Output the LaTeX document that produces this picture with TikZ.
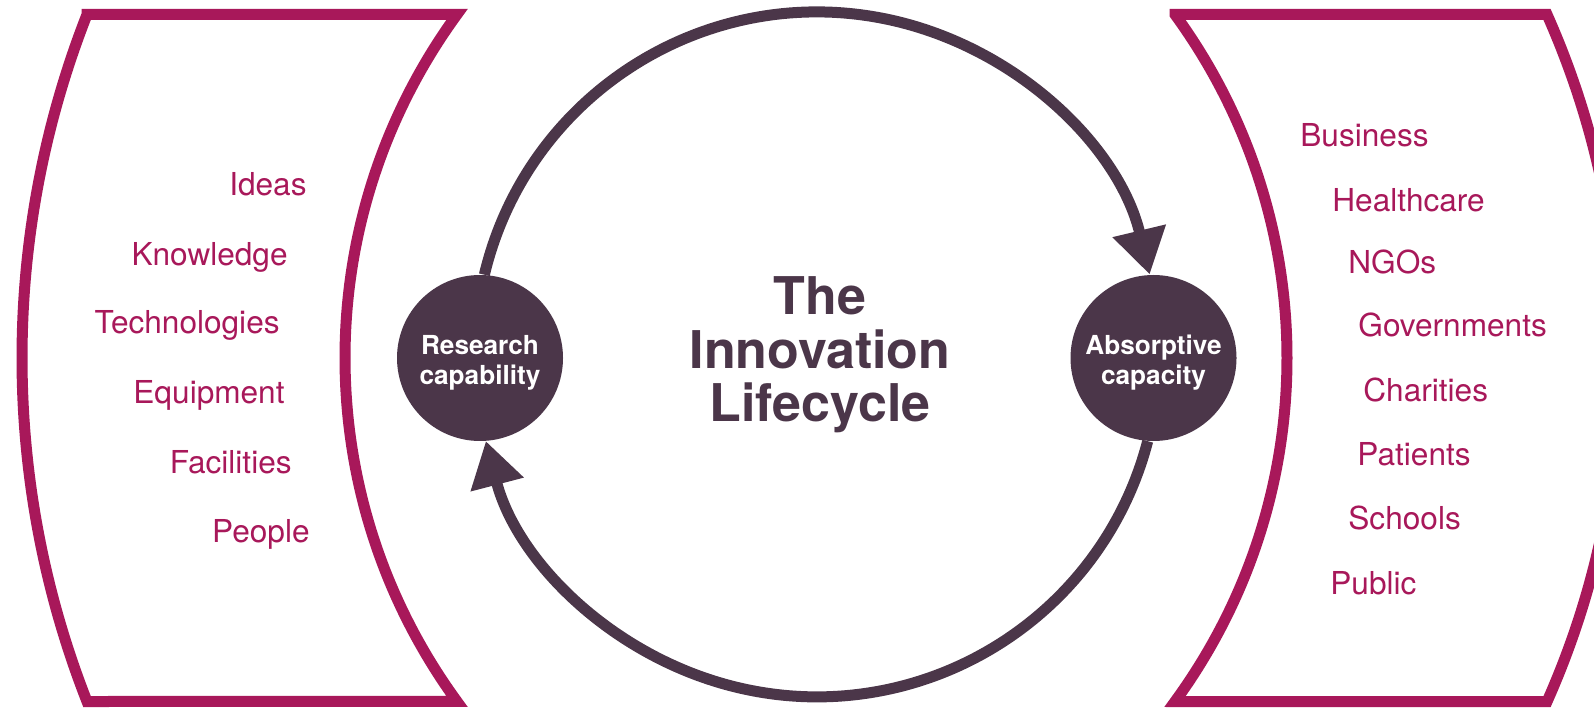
\documentclass[tikz,border=0pt]{standalone}
\usepackage{fontspec}
\setmainfont{TeX Gyre Heros}
\usetikzlibrary{arrows.meta}
\definecolor{framecol}{RGB}{168,24,90}
\definecolor{plum}{RGB}{75,54,73}
\begin{document}
\begin{tikzpicture}[x=0.5pt,y=0.5pt,
  framestyle/.style={draw=framecol, line width=5.5pt, line join=miter},
  itemL/.style={text=framecol, inner sep=0pt, anchor=base east, font=\fontsize{15.8pt}{18pt}\selectfont},
  itemR/.style={text=framecol, inner sep=0pt, anchor=base west, font=\fontsize{15.8pt}{18pt}\selectfont},
  hub/.style={circle, fill=plum, minimum size=83pt, inner sep=0pt},
  hublabel/.style={text=white, align=center, inner sep=0pt, font=\bfseries\fontsize{13.1pt}{15pt}\selectfont},
  titlestyle/.style={text=plum, align=center, inner sep=0pt, font=\bfseries\fontsize{26pt}{26.8pt}\selectfont},
  cyclearrow/.style={draw=plum, line width=5.5pt, -{Triangle[length=22.5pt,width=26pt]}}]
\useasboundingbox (0,0) rectangle (1594,707);
\clip (0,0) rectangle (1594,707);
% left frame
\draw[framestyle] (87,692.5) -- (457,692.5) arc[start angle=143.88,end angle=216.12,radius=291.35pt]
  -- (87,5.5) arc[start angle=201.43,end angle=158.57,radius=470.05pt] -- cycle;
% right frame
\draw[framestyle] (1175,692.5) -- (1547,692.5) arc[start angle=24.0,end angle=-24.0,radius=422.35pt]
  -- (1175,5.5) arc[start angle=-36.12,end angle=36.12,radius=291.35pt] -- cycle;
% hubs
\node[hub] (rc) at (480,349) {};
\node[hublabel] (rcl) at ([yshift=-2.5pt]rc.center) {Research\\capability};
\node[hub] (ac) at (1153.5,349) {};
\node[hublabel] (acl) at ([yshift=-2.5pt]ac.center) {Absorptive\\capacity};
% cycle arcs
\draw[cyclearrow] (rc.87) arc[start angle=166.6,end angle=13.43,radius=171pt];
\draw[cyclearrow] (ac.266.1) arc[start angle=-14.63,end angle=-165.4,radius=171pt];
% title
\node[titlestyle] (title) at (820,352) {The\\Innovation\\Lifecycle};
% left items
\node[itemL] (ideas) at (307,511) {Ideas};
\node[itemL] (knowledge) at (288,441) {Knowledge};
\node[itemL] (tech) at (280,373) {Technologies};
\node[itemL] (equip) at (285,303) {Equipment};
\node[itemL] (facil) at (292,234) {Facilities};
\node[itemL] (people) at (310,165) {People};
% right items
\node[itemR] (business) at (1300,560) {Business};
\node[itemR] (health) at (1332,495) {Healthcare};
\node[itemR] (ngos) at (1348,433) {NGOs};
\node[itemR] (gov) at (1358,370) {Governments};
\node[itemR] (charities) at (1363,305) {Charities};
\node[itemR] (patients) at (1357,242) {Patients};
\node[itemR] (schools) at (1348,177) {Schools};
\node[itemR] (public) at (1330,113) {Public};
\end{tikzpicture}
\end{document}
